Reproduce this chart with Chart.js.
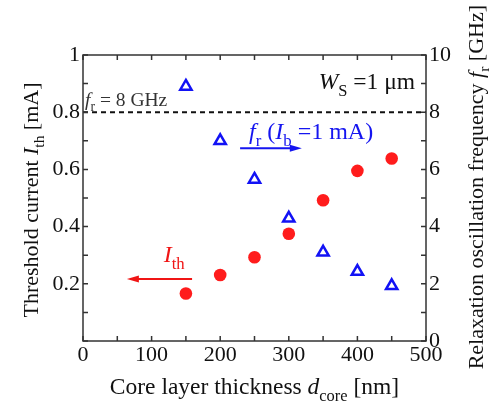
<!DOCTYPE html>
<html><head><meta charset="utf-8">
<script src="https://cdn.jsdelivr.net/npm/chart.js@4/dist/chart.umd.min.js"></script>
<style>html,body{margin:0;padding:0;background:#fff}#wrap{width:495px;height:406px}</style>
</head><body><div id="wrap"><canvas id="c" width="495" height="406"></canvas></div>
<script>
// ---- data ----
const thickness = [150, 200, 250, 300, 350, 400, 450];          // d_core [nm]
const thresholdCurrent = [0.166, 0.231, 0.293, 0.375, 0.492, 0.595, 0.638]; // I_th [mA]
const relaxFreq = [8.9, 7.0, 5.65, 4.29, 3.1, 2.43, 1.93];        // f_r [GHz]
const xTickLabels = [0, 100, 200, 300, 400, 500];
const leftTickLabels = [0.2, 0.4, 0.6, 0.8, 1];
const rightTickLabels = [0, 2, 4, 6, 8, 10];
const frReference = 8; // GHz dashed line

const FAM = 'Liberation Serif';
const TICK_FONT = 22;

function rich(ctx, parts, x, y, align, size, color) {
  const segs = parts.map(p => {
    const st = p[1] || '';
    const it = st.includes('i'), sub = st.includes('s');
    const fs = sub ? size * 0.7 : size;
    const font = (it ? 'italic ' : '') + fs + 'px "' + FAM + '", serif';
    ctx.font = font;
    return { t: p[0], font, dy: sub ? size * 0.28 : 0, w: ctx.measureText(p[0]).width };
  });
  const total = segs.reduce((a, s) => a + s.w, 0);
  let cx = align === 'center' ? x - total / 2 : align === 'right' ? x - total : x;
  ctx.fillStyle = color; ctx.textAlign = 'left'; ctx.textBaseline = 'alphabetic';
  segs.forEach(s => { ctx.font = s.font; ctx.fillText(s.t, cx, y + s.dy); cx += s.w; });
}
function arrow(ctx, x1, y1, x2, y2, color) {
  ctx.save();
  ctx.strokeStyle = color; ctx.fillStyle = color; ctx.lineWidth = 2;
  const dir = Math.sign(x2 - x1);
  ctx.beginPath(); ctx.moveTo(x1, y1); ctx.lineTo(x2 - dir * 8, y2); ctx.stroke();
  ctx.beginPath(); ctx.moveTo(x2, y2); ctx.lineTo(x2 - dir * 12, y2 - 3.5); ctx.lineTo(x2 - dir * 12, y2 + 3.5); ctx.closePath(); ctx.fill();
  ctx.restore();
}

const decor = {
  id: 'decor',
  afterDraw(chart) {
    const { ctx, chartArea: a, scales } = chart;
    const X = scales.x, YL = scales.y, YR = scales.y1;
    ctx.save();
    // frame
    ctx.strokeStyle = '#333'; ctx.lineWidth = 1.5;
    ctx.strokeRect(a.left, a.top, a.right - a.left, a.bottom - a.top);
    // inward ticks
    ctx.beginPath();
    for (let v = 0; v <= 500; v += 50) {
      const px = X.getPixelForValue(v);
      ctx.moveTo(px, a.bottom); ctx.lineTo(px, a.bottom - 5);
      ctx.moveTo(px, a.top); ctx.lineTo(px, a.top + 5);
    }
    for (let i = 0; i <= 10; i++) {
      const py = YL.getPixelForValue(i / 10);
      ctx.moveTo(a.left, py); ctx.lineTo(a.left + 5, py);
      const pr = YR.getPixelForValue(i);
      ctx.moveTo(a.right, pr); ctx.lineTo(a.right - 5, pr);
    }
    ctx.stroke();
    // annotations (positioned in data units)
    rich(ctx, [['f', 'i'], ['r', 's'], [' = 8 GHz']], X.getPixelForValue(3), YR.getPixelForValue(8.22), 'left', 19.5, '#333');
    rich(ctx, [['W', 'i'], ['S', 's'], [' =1 \u03bcm']], X.getPixelForValue(484), YR.getPixelForValue(8.8), 'right', 23.5, '#111');
    rich(ctx, [['f', 'i'], ['r', 's'], [' ('], ['I', 'i'], ['b', 's'], [' =1 mA)']], X.getPixelForValue(242), YR.getPixelForValue(7.06), 'left', 24, '#1515f0');
    arrow(ctx, X.getPixelForValue(229), YR.getPixelForValue(6.74), X.getPixelForValue(319), YR.getPixelForValue(6.74), '#1515f0');
    rich(ctx, [['I', 'i'], ['th', 's']], X.getPixelForValue(133), YL.getPixelForValue(0.275), 'center', 24, '#f01515');
    arrow(ctx, X.getPixelForValue(159), YL.getPixelForValue(0.217), X.getPixelForValue(64), YL.getPixelForValue(0.217), '#f01515');
    // axis titles
    rich(ctx, [['Core layer thickness '], ['d', 'i'], ['core', 's'], [' [nm]']], (a.left + a.right) / 2, 394, 'center', 23.5, '#111');
    ctx.save(); ctx.translate(38, (a.top + a.bottom) / 2 + 2); ctx.rotate(-Math.PI / 2);
    rich(ctx, [['Threshold current '], ['I', 'i'], ['th', 's'], [' [mA]']], 0, 0, 'center', 22, '#111');
    ctx.restore();
    ctx.save(); ctx.translate(483, 5); ctx.rotate(-Math.PI / 2);
    rich(ctx, [['Relaxation oscillation frequency '], ['f', 'i'], ['r', 's'], [' [GHz]']], 0, 0, 'right', 22, '#111');
    ctx.restore();
    ctx.restore();
  }
};

const tickFont = { family: FAM, size: TICK_FONT };
new Chart(document.getElementById('c'), {
  type: 'scatter',
  data: {
    datasets: [
      { label: 'fr = 8 GHz', type: 'line', yAxisID: 'y1', data: [{ x: 0, y: frReference }, { x: 500, y: frReference }],
        borderColor: '#111', borderWidth: 2, borderDash: [5, 4], pointRadius: 0, fill: false },
      { label: 'I_th', yAxisID: 'y', data: thickness.map((d, i) => ({ x: d, y: thresholdCurrent[i] })),
        pointStyle: 'circle', pointRadius: 6.3, backgroundColor: '#ff1c1c', borderWidth: 0 },
      { label: 'f_r', yAxisID: 'y1', data: thickness.map((d, i) => ({ x: d, y: relaxFreq[i] })),
        pointStyle: 'triangle', pointRadius: 6.5, backgroundColor: 'rgba(0,0,0,0)', borderColor: '#1212f5', borderWidth: 2.5 }
    ]
  },
  options: {
    responsive: false, animation: false, devicePixelRatio: 1,
    layout: { padding: { top: 55, left: 0, right: 0, bottom: 0 } },
    plugins: { legend: { display: false }, tooltip: { enabled: false } },
    scales: {
      x: { type: 'linear', min: 0, max: 500,
        ticks: { stepSize: 50, autoSkip: false, maxRotation: 0, font: tickFont, color: '#111', padding: 1,
          callback: v => xTickLabels.includes(Math.round(v)) ? String(Math.round(v)) : '' },
        grid: { display: false, drawTicks: false }, border: { display: false },
        afterFit: s => { s.height = 65; } },
      y: { position: 'left', min: 0, max: 1,
        ticks: { stepSize: 0.1, autoSkip: false, font: tickFont, color: '#111', padding: 3,
          callback: v => { const r = Math.round(v * 10) / 10; return leftTickLabels.includes(r) ? (r === 1 ? '1' : r.toFixed(1)) : ''; } },
        grid: { display: false, drawTicks: false }, border: { display: false },
        afterFit: s => { s.width = 83; } },
      y1: { position: 'right', min: 0, max: 10,
        ticks: { stepSize: 1, autoSkip: false, font: tickFont, color: '#111', padding: 3,
          callback: v => rightTickLabels.includes(Math.round(v)) ? String(Math.round(v)) : '' },
        grid: { display: false, drawTicks: false }, border: { display: false },
        afterFit: s => { s.width = 69; } }
    }
  },
  plugins: [decor]
});
</script></body></html>
